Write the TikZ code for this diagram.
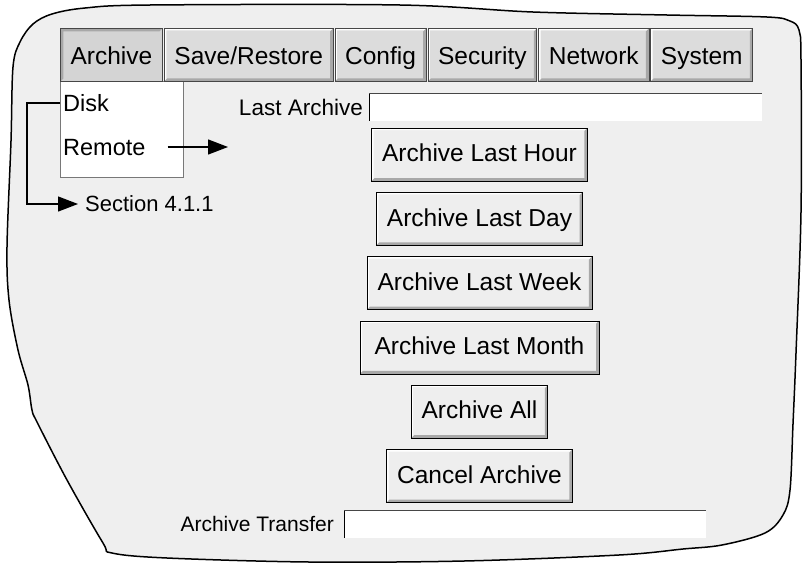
\documentclass[tikz,border=0pt]{standalone}
\usepackage{fontspec}
\setmainfont{Liberation Sans}
\usetikzlibrary{matrix, arrows.meta, positioning}
\definecolor{bgface}{RGB}{239,239,239}
\definecolor{tabface}{RGB}{220,220,220}
\definecolor{tabdownface}{RGB}{212,212,212}
\definecolor{btnface}{RGB}{238,238,238}
\definecolor{btnshadow}{RGB}{168,168,168}
\definecolor{tabline}{RGB}{70,70,70}
\definecolor{menuline}{RGB}{120,120,120}
\newcommand\btnfont{\fontsize{24.5}{28}\selectfont}
\newcommand\lblfont{\fontsize{22.5}{26}\selectfont}

\begin{document}
\begin{tikzpicture}[x=1pt, y=-1pt,
  raised/.style={path picture={
    \coordinate (pnw) at (path picture bounding box.north west);
    \coordinate (pne) at (path picture bounding box.north east);
    \coordinate (psw) at (path picture bounding box.south west);
    \coordinate (pse) at (path picture bounding box.south east);
    \fill[white] (pnw) -- (pne) -- ([shift={(-2pt,-2pt)}]pne) -- ([shift={(2pt,-2pt)}]pnw) -- ([shift={(2pt,2pt)}]psw) -- (psw) -- cycle;
    \fill[btnshadow] (pse) -- (psw) -- ([shift={(3pt,3pt)}]psw) -- ([shift={(-3pt,3pt)}]pse) -- ([shift={(-3pt,-3pt)}]pne) -- (pne) -- cycle;}},
  sunken/.style={path picture={
    \coordinate (pnw) at (path picture bounding box.north west);
    \coordinate (pne) at (path picture bounding box.north east);
    \coordinate (psw) at (path picture bounding box.south west);
    \fill[btnshadow] (pnw) -- (pne) -- ([shift={(-3pt,-3pt)}]pne) -- ([shift={(3pt,-3pt)}]pnw) -- ([shift={(3pt,3pt)}]psw) -- (psw) -- cycle;}},
  tab/.style={draw=tabline, line width=0.8pt, fill=tabface, minimum height=53pt, inner xsep=10.2pt, inner ysep=0pt, text height=22pt, text depth=2.5pt, font=\btnfont, raised},
  tabdown/.style={draw=tabline, line width=0.8pt, fill=tabdownface, minimum height=53pt, inner xsep=10.2pt, inner ysep=0pt, text height=22pt, text depth=2.5pt, font=\btnfont, sunken},
  button/.style={draw=black, line width=0.8pt, fill=btnface, minimum height=53pt, inner xsep=10.5pt, inner ysep=0pt, text height=19pt, text depth=4.5pt, font=\btnfont, raised},
  field/.style={fill=white, inner sep=0pt, minimum height=28pt, path picture={
    \draw[line width=2pt] (path picture bounding box.south west) -- (path picture bounding box.north west);
    \draw[line width=2pt, tabline] (path picture bounding box.north west) -- (path picture bounding box.north east);}},
  lbl/.style={inner sep=0pt, font=\lblfont},
  conn/.style={line width=1.3pt, -{Triangle[length=20pt, width=15pt]}}]
\useasboundingbox (0,0) rectangle (803,565);
% screen outline
\filldraw[fill=bgface, line width=1.5pt] plot[smooth cycle, tension=0.55] coordinates {
  (20,42) (33,24) (52,14) (85,8) (150,5) (400,5) (533,12) (667,15) (767,17) (790,21) (799,30)
  (801,60) (801,212) (796,353) (793,424) (790,490) (783,515) (765,533) (722,545) (683,549)
  (619,555) (464,561) (309,562) (167,558) (112,553) (103,543) (67,480) (37,422) (32,410)
  (28,385) (18,350) (9,300) (7,247) (11,141) (13,67)};
% drop down menu
\node[draw=menuline, fill=white, line width=0.8pt, anchor=north west, minimum width=123pt, minimum height=96pt, inner sep=0pt] (menu) at (60,81) {};
\node[lbl, font=\fontsize{23.5}{27}\selectfont, anchor=west] (disk) at (63,103) {Disk};
\node[lbl, font=\fontsize{23.5}{27}\selectfont, anchor=west] (remote) at (63,148) {Remote};
% tabs
\node[tabdown, anchor=north west] (archivetab) at (60,28) {Archive};
\node[tab, right=1pt of archivetab] (savetab) {Save/Restore};
\node[tab, right=1pt of savetab] (configtab) {Config};
\node[tab, right=1pt of configtab] (securitytab) {Security};
\node[tab, right=1pt of securitytab] (networktab) {Network};
\node[tab, right=1pt of networktab] (systemtab) {System};
% fields
\node[lbl, anchor=east] (lastlbl) at (363,107) {Last Archive};
\node[field, anchor=west, minimum width=393pt] (lastfield) at (369,107) {};
\node[lbl, font=\fontsize{21}{25}\selectfont, anchor=east] (translbl) at (334,524) {Archive Transfer};
\node[field, anchor=west, minimum width=362pt] (transfield) at (344,524) {};
% buttons
\matrix (btns) [matrix of nodes, row sep=10.5pt, inner sep=0pt, nodes={button}] at (479.5,315.25) {
Archive Last Hour \\
Archive Last Day \\
Archive Last Week \\
|[minimum width=239pt]| Archive Last Month \\
Archive All \\
Cancel Archive \\
};
% links
\node[lbl, font=\fontsize{22}{26}\selectfont, anchor=west, inner xsep=7pt] (sec) at (78,204) {Section 4.1.1};
\coordinate (remoteend) at (228,147);
\draw[conn] (menu.west |- disk.west) -- ++(-33,0) |- (sec.west);
\draw[conn] ([xshift=22pt]remote.east |- remoteend) -- (remoteend);
\end{tikzpicture}
\end{document}
